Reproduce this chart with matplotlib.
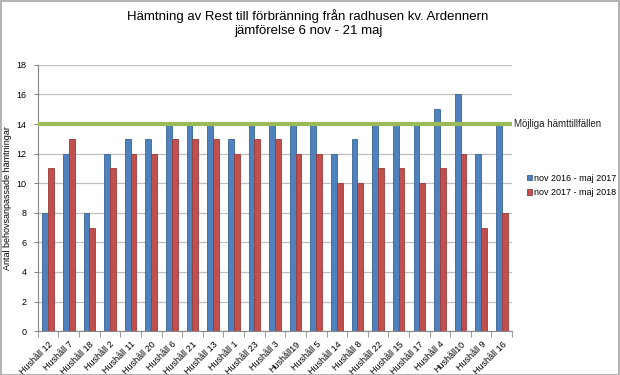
import matplotlib.pyplot as plt
import matplotlib.patches as mpatches
import numpy as np

plt.rcParams['font.family'] = ['Liberation Sans', 'DejaVu Sans']

# data
hushall = ["Hushåll 12", "Hushåll 7", "Hushåll 18", "Hushåll 2", "Hushåll 11",
           "Hushåll 20", "Hushåll 6", "Hushåll 21", "Hushåll 13", "Hushåll 1",
           "Hushåll 23", "Hushåll 3", "Hushåll19", "Hushåll 5", "Hushåll 14",
           "Hushåll 8", "Hushåll 22", "Hushåll 15", "Hushåll 17", "Hushåll 4",
           "Hushåll10", "Hushåll 9", "Hushåll 16"]
period_1617 = [8, 12, 8, 12, 13, 13, 14, 14, 14, 13, 14, 14, 14, 14, 12, 13, 14, 14, 14, 15, 16, 12, 14]
period_1718 = [11, 13, 7, 11, 12, 12, 13, 13, 13, 12, 13, 13, 12, 12, 10, 10, 11, 11, 10, 11, 12, 7, 8]
mojliga = 14

blue = "#4F81BD"
red = "#C0504D"
green = "#9BBB59"

fig = plt.figure(figsize=(6.2, 3.75), dpi=100)
ax = fig.add_axes([0.061, 0.117, 0.765, 0.71])

x = np.arange(len(hushall))
w = 0.28
ax.bar(x - w/2, period_1617, w, color=blue, edgecolor="#3A6596", linewidth=0.6, zorder=3,
       label="nov 2016 - maj 2017")
ax.bar(x + w/2, period_1718, w, color=red, edgecolor="#9C3B39", linewidth=0.6, zorder=3,
       label="nov 2017 - maj 2018")
ax.axhline(mojliga, color=green, linewidth=3, zorder=4)
ax.text(1.005, mojliga, "Möjliga hämttillfällen", transform=ax.get_yaxis_transform(),
        va="center", ha="left", fontsize=7, color="#222222")

ax.set_xlim(-0.5, len(hushall) - 0.5)
ax.set_ylim(0, 18)
ax.set_yticks(range(0, 19, 2))
ax.yaxis.grid(True, color="#BFBFBF", linewidth=0.9, zorder=0)
ax.set_axisbelow(True)

ax.set_xticks(x)
ax.set_xticklabels(hushall, rotation=45, ha="right", rotation_mode="anchor", fontsize=6.5)
ax.set_xticks(np.arange(-0.5, len(hushall), 1), minor=True)
ax.tick_params(axis="x", which="major", length=0, pad=6)
ax.tick_params(axis="x", which="minor", length=4, color="#888888")
ax.tick_params(axis="y", length=3, pad=5, color="#888888", labelsize=6.5)

for s in ["top", "right"]:
    ax.spines[s].set_visible(False)
ax.spines["left"].set_color("#888888")
ax.spines["bottom"].set_color("#888888")

ax.set_ylabel("Antal behovsanpassade hämtningar", fontsize=6.5, labelpad=3)

fig.suptitle("Hämtning av Rest till förbränning från radhusen kv. Ardennern\njämförelse 6 nov - 21 maj",
             fontsize=9.5, y=0.975, x=0.497, linespacing=1.15)

fig.legend(loc="center left", bbox_to_anchor=(0.85, 0.505), frameon=False, fontsize=6.5,
           handlelength=0.55, handleheight=0.55, handletextpad=0.25, labelspacing=0.6,
           borderaxespad=0, borderpad=0)

fig.patches.append(mpatches.Rectangle((0.001, 0.001), 0.997, 0.996, transform=fig.transFigure,
                                      fill=False, edgecolor="#A6A6A6", linewidth=1.2))

fig.savefig("out.png", dpi=100)
